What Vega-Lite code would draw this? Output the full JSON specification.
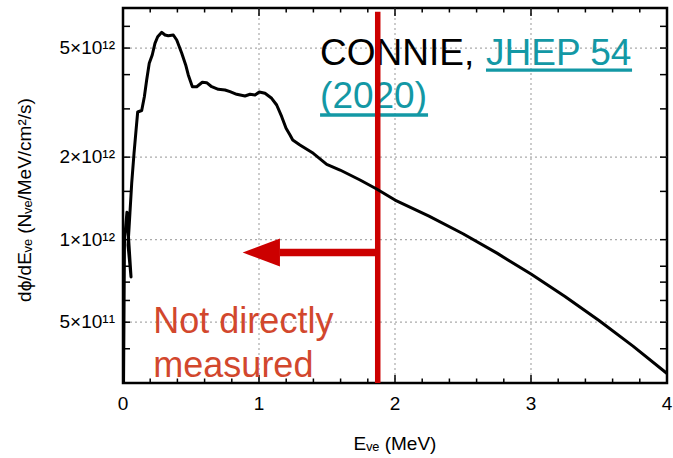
{
  "$schema": "https://vega.github.io/schema/vega-lite/v6.json",
  "autosize": "none",
  "width": 544,
  "height": 375,
  "padding": {"left": 123, "top": 8, "right": 6, "bottom": 75},
  "background": "white",
  "config": {
    "view": {"stroke": "black", "strokeWidth": 2.5},
    "font": "Liberation Sans"
  },
  "datasets": {
    "curve": [
      {"i": 1, "E": 0.004, "F": 3.0e11},
      {"i": 2, "E": 0.011, "F": 9.97e11},
      {"i": 3, "E": 0.029, "F": 1.26e12},
      {"i": 4, "E": 0.059, "F": 7.31e11},
      {"i": 5, "E": 0.037, "F": 9.56e11},
      {"i": 6, "E": 0.064, "F": 1.606e12},
      {"i": 7, "E": 0.081, "F": 2.065e12},
      {"i": 8, "E": 0.096, "F": 2.512e12},
      {"i": 9, "E": 0.108, "F": 2.922e12},
      {"i": 10, "E": 0.1375, "F": 2.959e12},
      {"i": 11, "E": 0.157, "F": 3.323e12},
      {"i": 12, "E": 0.174, "F": 3.823e12},
      {"i": 13, "E": 0.193, "F": 4.399e12},
      {"i": 14, "E": 0.215, "F": 4.716e12},
      {"i": 15, "E": 0.235, "F": 5.203e12},
      {"i": 16, "E": 0.255, "F": 5.5e12},
      {"i": 17, "E": 0.285, "F": 5.708e12},
      {"i": 18, "E": 0.309, "F": 5.579e12},
      {"i": 19, "E": 0.333, "F": 5.546e12},
      {"i": 20, "E": 0.37, "F": 5.579e12},
      {"i": 21, "E": 0.395, "F": 5.35e12},
      {"i": 22, "E": 0.432, "F": 4.785e12},
      {"i": 23, "E": 0.461, "F": 4.337e12},
      {"i": 24, "E": 0.48, "F": 3.988e12},
      {"i": 25, "E": 0.51, "F": 3.614e12},
      {"i": 26, "E": 0.542, "F": 3.614e12},
      {"i": 27, "E": 0.583, "F": 3.751e12},
      {"i": 28, "E": 0.615, "F": 3.738e12},
      {"i": 29, "E": 0.652, "F": 3.614e12},
      {"i": 30, "E": 0.701, "F": 3.536e12},
      {"i": 31, "E": 0.75, "F": 3.516e12},
      {"i": 32, "E": 0.787, "F": 3.466e12},
      {"i": 33, "E": 0.836, "F": 3.391e12},
      {"i": 34, "E": 0.897, "F": 3.343e12},
      {"i": 35, "E": 0.934, "F": 3.391e12},
      {"i": 36, "E": 0.971, "F": 3.371e12},
      {"i": 37, "E": 1.002, "F": 3.457e12},
      {"i": 38, "E": 1.044, "F": 3.419e12},
      {"i": 39, "E": 1.093, "F": 3.279e12},
      {"i": 40, "E": 1.13, "F": 3.099e12},
      {"i": 41, "E": 1.167, "F": 2.81e12},
      {"i": 42, "E": 1.199, "F": 2.548e12},
      {"i": 43, "E": 1.228, "F": 2.409e12},
      {"i": 44, "E": 1.248, "F": 2.31e12},
      {"i": 45, "E": 1.301, "F": 2.215e12},
      {"i": 46, "E": 1.399, "F": 2.065e12},
      {"i": 47, "E": 1.498, "F": 1.883e12},
      {"i": 48, "E": 1.596, "F": 1.795e12},
      {"i": 49, "E": 1.743, "F": 1.651e12},
      {"i": 50, "E": 1.865, "F": 1.53e12},
      {"i": 51, "E": 2.0, "F": 1.395e12},
      {"i": 52, "E": 2.25, "F": 1.219e12},
      {"i": 53, "E": 2.5, "F": 1.051e12},
      {"i": 54, "E": 2.75, "F": 8.93e11},
      {"i": 55, "E": 3.0, "F": 7.49e11},
      {"i": 56, "E": 3.25, "F": 6.2e11},
      {"i": 57, "E": 3.5, "F": 5.07e11},
      {"i": 58, "E": 3.75, "F": 4.09e11},
      {"i": 59, "E": 4.0, "F": 3.25e11}
    ],
    "xGrid": [{"E": 1}, {"E": 2}, {"E": 3}],
    "yGrid": [{"F": 5e11}, {"F": 1e12}, {"F": 2e12}, {"F": 5e12}],
    "xTicksMajor": [
      {"E": 0, "F": 3e11}, {"E": 1, "F": 3e11}, {"E": 2, "F": 3e11}, {"E": 3, "F": 3e11}, {"E": 4, "F": 3e11},
      {"E": 0, "F": 7e12}, {"E": 1, "F": 7e12}, {"E": 2, "F": 7e12}, {"E": 3, "F": 7e12}, {"E": 4, "F": 7e12}
    ],
    "xTicksMinor": [
      {"E": 0.2, "F": 3e11}, {"E": 0.4, "F": 3e11}, {"E": 0.6, "F": 3e11}, {"E": 0.8, "F": 3e11},
      {"E": 1.2, "F": 3e11}, {"E": 1.4, "F": 3e11}, {"E": 1.6, "F": 3e11}, {"E": 1.8, "F": 3e11},
      {"E": 2.2, "F": 3e11}, {"E": 2.4, "F": 3e11}, {"E": 2.6, "F": 3e11}, {"E": 2.8, "F": 3e11},
      {"E": 3.2, "F": 3e11}, {"E": 3.4, "F": 3e11}, {"E": 3.6, "F": 3e11}, {"E": 3.8, "F": 3e11},
      {"E": 0.2, "F": 7e12}, {"E": 0.4, "F": 7e12}, {"E": 0.6, "F": 7e12}, {"E": 0.8, "F": 7e12},
      {"E": 1.2, "F": 7e12}, {"E": 1.4, "F": 7e12}, {"E": 1.6, "F": 7e12}, {"E": 1.8, "F": 7e12},
      {"E": 2.2, "F": 7e12}, {"E": 2.4, "F": 7e12}, {"E": 2.6, "F": 7e12}, {"E": 2.8, "F": 7e12},
      {"E": 3.2, "F": 7e12}, {"E": 3.4, "F": 7e12}, {"E": 3.6, "F": 7e12}, {"E": 3.8, "F": 7e12}
    ],
    "yTicks": [
      {"E": 0, "F": 4e11}, {"E": 0, "F": 5e11}, {"E": 0, "F": 6e11}, {"E": 0, "F": 7e11}, {"E": 0, "F": 8e11}, {"E": 0, "F": 1e12},
      {"E": 0, "F": 1.5e12}, {"E": 0, "F": 2e12}, {"E": 0, "F": 3e12}, {"E": 0, "F": 4e12}, {"E": 0, "F": 5e12}, {"E": 0, "F": 6e12},
      {"E": 4, "F": 4e11}, {"E": 4, "F": 5e11}, {"E": 4, "F": 6e11}, {"E": 4, "F": 7e11}, {"E": 4, "F": 8e11}, {"E": 4, "F": 1e12},
      {"E": 4, "F": 1.5e12}, {"E": 4, "F": 2e12}, {"E": 4, "F": 3e12}, {"E": 4, "F": 4e12}, {"E": 4, "F": 5e12}, {"E": 4, "F": 6e12}
    ],
    "xLabels": [
      {"E": 0, "F": 2.515e11, "text": "0"},
      {"E": 1, "F": 2.515e11, "text": "1"},
      {"E": 2, "F": 2.515e11, "text": "2"},
      {"E": 3, "F": 2.515e11, "text": "3"},
      {"E": 4, "F": 2.515e11, "text": "4"}
    ],
    "yLabels": [
      {"E": -0.059, "F": 5e11, "text": "5×10¹¹"},
      {"E": -0.059, "F": 1e12, "text": "1×10¹²"},
      {"E": -0.059, "F": 2e12, "text": "2×10¹²"},
      {"E": -0.059, "F": 5e12, "text": "5×10¹²"}
    ],
    "xTitle": [{"E": 2, "F": 1.797e11, "text": "Eᵥₑ (MeV)"}],
    "yTitle": [{"E": -0.72, "F": 1.395e12, "text": "dϕ/dEᵥₑ  (Nᵥₑ/MeV/cm²/s)"}],
    "vline": [{"E": 1.873, "F": 3.0e11, "F2": 6.79e12}],
    "shaft": [{"E": 1.154, "E2": 1.873, "F": 8.97e11}],
    "head": [{"E": 1.017, "F": 8.97e11}],
    "blackText": [{"E": 1.449, "F": 4.337e12, "text": "CONNIE,"}],
    "tealText": [
      {"E": 2.669, "F": 4.337e12, "text": "JHEP 54"},
      {"E": 1.449, "F": 3.022e12, "text": "(2020)"}
    ],
    "underlines": [
      {"E": 2.669, "E2": 3.743, "F": 4.157e12},
      {"E": 1.449, "E2": 2.243, "F": 2.85e12}
    ],
    "redText": [
      {"E": 0.223, "F": 4.566e11, "text": "Not directly"},
      {"E": 0.223, "F": 3.164e11, "text": "measured"}
    ]
  },
  "encoding": {
    "x": {"field": "E", "type": "quantitative", "scale": {"domain": [0, 4], "nice": false, "zero": false}, "axis": null},
    "y": {"field": "F", "type": "quantitative", "scale": {"type": "log", "domain": [3e11, 7e12], "nice": false}, "axis": null}
  },
  "layer": [
    {
      "data": {"name": "xGrid"},
      "mark": {"type": "rule", "color": "#aaaaaa", "strokeWidth": 1.2, "strokeDash": [2, 3]},
      "encoding": {"y": null}
    },
    {
      "data": {"name": "yGrid"},
      "mark": {"type": "rule", "color": "#aaaaaa", "strokeWidth": 1.2, "strokeDash": [2, 3]},
      "encoding": {"x": null}
    },
    {
      "data": {"name": "xTicksMajor"},
      "mark": {"type": "tick", "orient": "vertical", "size": 16, "thickness": 1.5, "color": "black", "opacity": 1, "clip": true}
    },
    {
      "data": {"name": "xTicksMinor"},
      "mark": {"type": "tick", "orient": "vertical", "size": 9, "thickness": 1.5, "color": "black", "opacity": 1, "clip": true}
    },
    {
      "data": {"name": "yTicks"},
      "mark": {"type": "tick", "orient": "horizontal", "size": 14, "thickness": 1.5, "color": "black", "opacity": 1, "clip": true}
    },
    {
      "data": {"name": "xLabels"},
      "mark": {"type": "text", "align": "center", "baseline": "middle", "fontSize": 19, "font": "Liberation Sans", "color": "black"},
      "encoding": {"text": {"field": "text"}}
    },
    {
      "data": {"name": "yLabels"},
      "mark": {"type": "text", "align": "right", "baseline": "middle", "fontSize": 19, "font": "Liberation Sans", "color": "black"},
      "encoding": {"text": {"field": "text"}}
    },
    {
      "data": {"name": "xTitle"},
      "mark": {"type": "text", "align": "center", "baseline": "middle", "fontSize": 19, "font": "Liberation Sans", "color": "black"},
      "encoding": {"text": {"field": "text"}}
    },
    {
      "data": {"name": "yTitle"},
      "mark": {"type": "text", "align": "center", "baseline": "middle", "angle": 270, "fontSize": 19, "font": "Liberation Sans", "color": "black"},
      "encoding": {"text": {"field": "text"}}
    },
    {
      "data": {"name": "blackText"},
      "mark": {"type": "text", "align": "left", "baseline": "alphabetic", "fontSize": 37, "font": "Liberation Sans", "color": "black"},
      "encoding": {"text": {"field": "text"}}
    },
    {
      "data": {"name": "tealText"},
      "mark": {"type": "text", "align": "left", "baseline": "alphabetic", "fontSize": 37, "font": "Liberation Sans", "color": "#1398a5"},
      "encoding": {"text": {"field": "text"}}
    },
    {
      "data": {"name": "underlines"},
      "mark": {"type": "rule", "color": "#1398a5", "strokeWidth": 3.3},
      "encoding": {"x2": {"field": "E2"}}
    },
    {
      "data": {"name": "redText"},
      "mark": {"type": "text", "align": "left", "baseline": "alphabetic", "fontSize": 36, "font": "Liberation Sans", "color": "#d2472d"},
      "encoding": {"text": {"field": "text"}}
    },
    {
      "data": {"name": "shaft"},
      "mark": {"type": "rule", "color": "#cc0000", "strokeWidth": 7.5, "strokeCap": "butt"},
      "encoding": {"x2": {"field": "E2"}}
    },
    {
      "data": {"name": "head"},
      "mark": {"type": "point", "shape": "M -1 0 L 1 -0.75 L 1 0.75 Z", "size": 1391, "filled": true, "color": "#cc0000", "opacity": 1, "strokeWidth": 0}
    },
    {
      "data": {"name": "vline"},
      "mark": {"type": "rule", "color": "#cc0000", "strokeWidth": 5.5, "strokeCap": "butt"},
      "encoding": {"y2": {"field": "F2"}}
    },
    {
      "data": {"name": "curve"},
      "mark": {"type": "line", "color": "black", "strokeWidth": 3, "clip": true, "strokeJoin": "round"},
      "encoding": {"order": {"field": "i", "type": "quantitative"}}
    }
  ]
}
